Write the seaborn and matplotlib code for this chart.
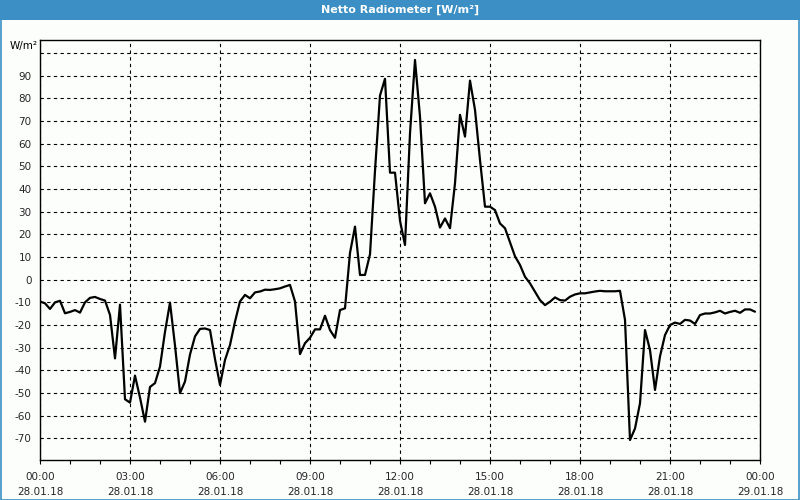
import matplotlib
matplotlib.use("Agg")
import matplotlib.pyplot as plt
import matplotlib.dates as mdates
from matplotlib.patches import Rectangle
import seaborn as sns
import pandas as pd

# ---- data (10-minute values, 28.01.18) ----
start_time = "2018-01-28 00:00"
step = "10min"
values = [
    -9.6, -10.4, -12.9, -10.0, -9.3, -14.8, -14.2, -13.4, -14.5, -10.0,
    -8.0, -7.6, -8.5, -9.2, -15.5, -34.7, -11.0, -52.7, -54.2, -42.3,
    -52.0, -62.6, -47.3, -45.6, -38.3, -23.0, -10.1, -29.0, -50.0, -44.9,
    -33.0, -25.0, -21.7, -21.5, -22.2, -35.0, -46.4, -35.4, -28.8, -18.5,
    -9.6, -6.7, -8.2, -5.6, -5.2, -4.4, -4.5, -4.2, -3.8, -3.0,
    -2.3, -9.6, -32.8, -28.0, -25.6, -21.9, -21.9, -15.9, -22.2, -25.6,
    -13.4, -12.6, 11.8, 23.4, 2.1, 2.1, 11.2, 48.0, 81.2, 88.6,
    47.2, 47.2, 26.0, 15.3, 64.5, 96.9, 71.9, 33.7, 38.1, 32.2,
    23.0, 27.0, 22.7, 42.5, 72.7, 63.1, 87.8, 74.9, 52.8, 32.2,
    32.2, 30.7, 24.8, 22.7, 16.5, 10.3, 6.5, 1.3, -1.6, -5.3,
    -9.0, -11.2, -9.7, -7.8, -9.0, -9.2, -7.5, -6.5, -6.0, -6.0,
    -5.6, -5.2, -4.9, -5.1, -5.1, -5.1, -4.9, -17.7, -70.7, -65.6,
    -54.5, -22.2, -31.0, -48.6, -33.8, -24.4, -20.0, -18.9, -19.5, -17.7,
    -18.0, -19.5, -15.6, -14.9, -14.9, -14.4, -13.7, -14.9, -14.2, -13.7,
    -14.6, -13.1, -13.1, -14.1,
]
y_ticks = [-70, -60, -50, -40, -30, -20, -10, 0, 10, 20, 30, 40, 50, 60, 70, 80, 90, 100]
title_text = "Netto Radiometer [W/m²]"
unit_text = "W/m²"

df = pd.DataFrame({
    "time": pd.date_range(start_time, periods=len(values), freq=step),
    "value": values,
})

sns.set_theme(style="white")
plt.rcParams["font.family"] = ["DejaVu Sans"]

bg = "#fcfefc"
blue = "#3b8fc4"

fig = plt.figure(figsize=(8, 5), dpi=100, facecolor=bg)
ax = fig.add_axes([0.05, 0.08, 0.90, 0.84])
ax.set_facecolor(bg)

sns.lineplot(data=df, x="time", y="value", ax=ax, color="black", linewidth=1.6)

ax.set_xlim(pd.Timestamp("2018-01-28 00:00"), pd.Timestamp("2018-01-29 00:00"))
ax.set_ylim(-79.5, 105.7)

ax.xaxis.set_major_locator(mdates.HourLocator(byhour=range(0, 24, 3)))
ax.xaxis.set_minor_locator(mdates.HourLocator())
ax.xaxis.set_major_formatter(mdates.DateFormatter("%H:%M\n%d.%m.%y"))
ax.set_yticks(y_ticks)
ax.set_yticklabels([str(v) if v != 100 else "" for v in y_ticks])

ax.tick_params(axis="x", which="both", direction="out", length=3, width=0.8,
               color="black", labelsize=7.5, pad=6, bottom=True)
ax.tick_params(axis="y", length=0, labelsize=7.5, pad=6)
for lab in ax.get_xticklabels():
    lab.set_linespacing(1.6)

ax.grid(True, axis="both", which="major", color="black", linestyle=(0, (3, 3)), linewidth=0.8)
ax.set_axisbelow(True)
for s in ax.spines.values():
    s.set_color("black")
    s.set_linewidth(1.0)
    s.set_visible(True)

ax.set_xlabel("")
ax.set_ylabel("")

fig.text(0.012, 0.908, unit_text, fontsize=7.5, ha="left", va="center", color="black")

# title bar
fig.patches.append(Rectangle((0, 0.96), 1, 0.04, transform=fig.transFigure,
                             facecolor=blue, edgecolor="none", zorder=0))
fig.patches.append(Rectangle((0.0008, 0.001), 0.9984, 0.998, transform=fig.transFigure,
                             facecolor="none", edgecolor=blue, linewidth=1.2, zorder=5))
fig.text(0.5, 0.98, title_text, color="white", fontsize=8, fontweight="bold",
         ha="center", va="center")

fig.savefig("out.png", dpi=100, facecolor=bg)
